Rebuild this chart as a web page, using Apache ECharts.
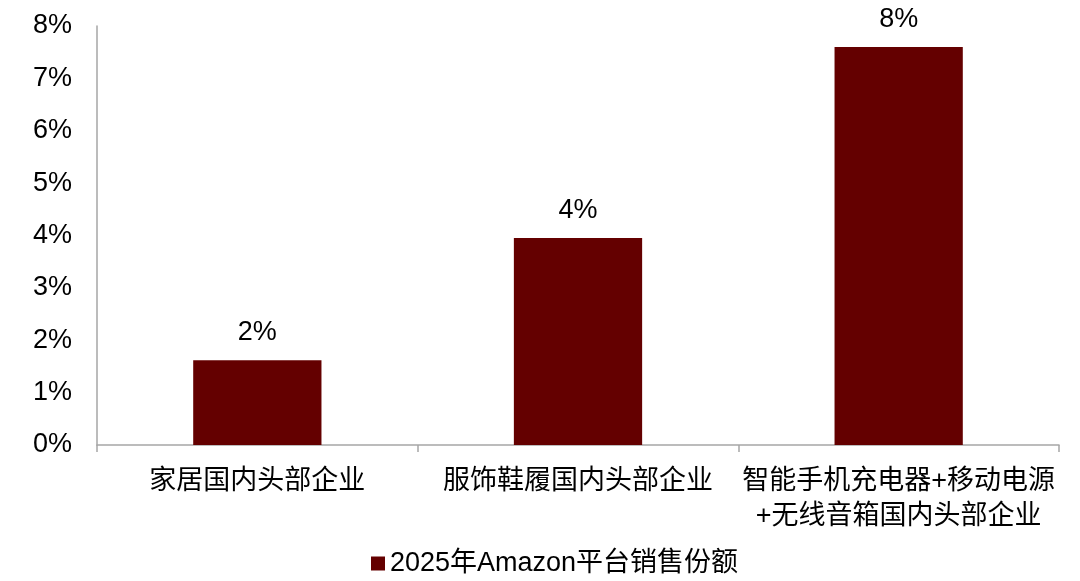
<!DOCTYPE html>
<html>
<head>
<meta charset="utf-8">
<script src="https://cdn.jsdelivr.net/npm/echarts@6/dist/echarts.min.js"></script>
<style>html,body{margin:0;padding:0;background:#fff;}#c{width:1080px;height:581px;}</style>
</head>
<body>
<div id="c"></div>
<script>
const categories = ['家居国内头部企业', '服饰鞋履国内头部企业', '智能手机充电器+移动电源\n+无线音箱国内头部企业'];
const values = [1.62, 3.95, 7.6];
const seriesName = '2025年Amazon平台销售份额';
const yTicks = [0, 1, 2, 3, 4, 5, 6, 7, 8];

const FONT = '"Liberation Sans", Arial, "Noto Sans CJK SC", sans-serif';
const chart = echarts.init(document.getElementById('c'));
chart.setOption({
  animation: false,
  textStyle: { fontFamily: FONT },
  grid: { left: 97, right: 21, top: 26, bottom: 136, containLabel: false, outerBoundsMode: 'none' },
  legend: {
    data: [seriesName],
    left: 366, top: 545,
    icon: 'rect', itemWidth: 14, itemHeight: 14, itemGap: 6,
    textStyle: { fontSize: 27, color: '#000', fontFamily: FONT }
  },
  xAxis: {
    type: 'category',
    data: categories,
    axisLine: { lineStyle: { color: '#a6a6a6', width: 1.5 } },
    axisTick: { show: true, length: 7, lineStyle: { color: '#a6a6a6', width: 1.5 } },
    axisLabel: { fontSize: 27, color: '#000', margin: 19, lineHeight: 35, fontFamily: FONT, interval: 0 }
  },
  yAxis: {
    type: 'value',
    min: yTicks[0], max: yTicks[yTicks.length - 1], interval: 1,
    splitLine: { show: false },
    axisLine: { show: true, lineStyle: { color: '#a6a6a6', width: 1.5 } },
    axisTick: { show: false },
    axisLabel: { fontSize: 27, color: '#000', margin: 25, formatter: v => v + '%', fontFamily: FONT }
  },
  series: [{
    name: seriesName,
    type: 'bar',
    data: values,
    barWidth: '40%',
    itemStyle: { color: '#640000' },
    label: {
      show: true, position: 'top', distance: 14,
      fontSize: 27, color: '#000', fontFamily: FONT,
      formatter: p => Math.round(p.value) + '%'
    }
  }]
});
</script>
</body>
</html>
